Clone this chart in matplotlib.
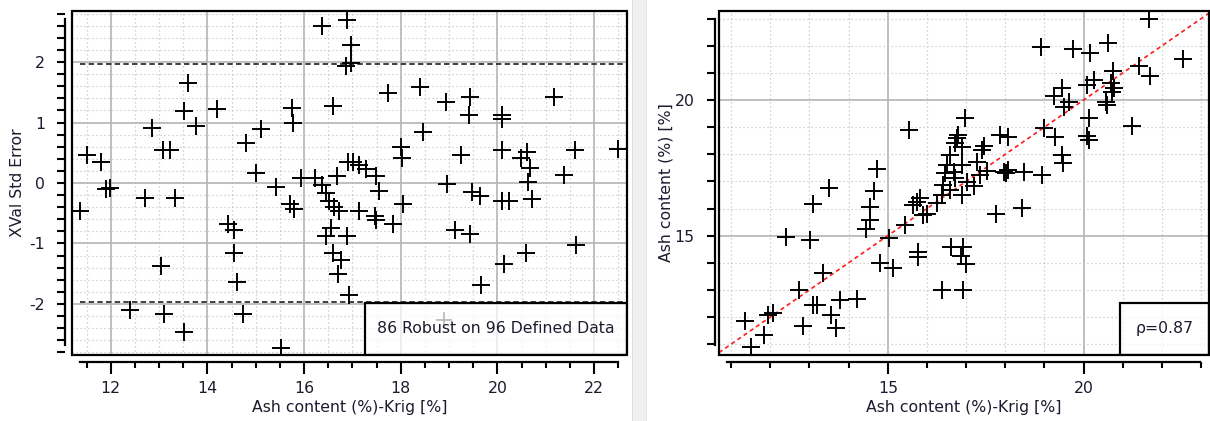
import matplotlib
matplotlib.use("Agg")
import matplotlib.pyplot as plt
from matplotlib.patches import Rectangle
from matplotlib.ticker import MultipleLocator, FixedLocator
import numpy as np

plt.rcParams['font.family'] = ['DejaVu Sans']
plt.rcParams['axes.unicode_minus'] = False

# ---------------- data: left panel (cross-validation std error) ----------------
xval_x = [11.37, 11.52, 11.81, 11.90, 11.99, 12.85, 13.08, 13.22, 12.72, 13.34,
          13.60, 13.52, 13.77, 14.19, 14.80, 15.11, 15.01, 15.41, 15.76, 15.77,
          15.94, 16.22, 15.70, 15.80, 13.05, 14.42, 14.56, 14.56, 14.61, 14.73,
          12.40, 13.10, 13.51, 15.53, 16.38, 16.88, 16.98, 16.87, 16.97, 16.59,
          17.74, 18.39, 18.93, 19.44, 19.41, 20.09, 20.09, 21.18, 18.46, 18.00,
          18.03, 19.25, 20.09, 20.61, 20.49, 20.68, 20.64, 21.61, 22.49, 21.38,
          18.95, 19.48, 19.63, 18.05, 20.09, 20.23, 20.71, 16.38, 16.45, 16.52,
          16.62, 16.73, 16.69, 16.90, 17.02, 17.14, 17.28, 17.48, 17.55, 17.14,
          17.47, 17.48, 17.83, 16.56, 16.45, 16.88, 16.59, 16.76, 16.71, 16.92,
          19.13, 19.44, 21.63, 20.60, 20.14, 19.67]
xval_err = [-0.46, 0.47, 0.34, -0.10, -0.08, 0.91, 0.55, 0.55, -0.24, -0.24,
            1.65, 1.19, 0.94, 1.23, 0.66, 0.89, 0.16, -0.07, 1.24, 1.00,
            0.09, 0.08, -0.35, -0.43, -1.38, -0.67, -0.77, -1.16, -1.63, -2.17,
            -2.10, -2.17, -2.46, -2.72, 2.60, 2.69, 2.28, 1.94, 1.98, 1.28,
            1.49, 1.58, 1.34, 1.42, 1.12, 1.12, 1.06, 1.42, 0.84, 0.60,
            0.41, 0.46, 0.55, 0.52, 0.42, 0.24, 0.02, 0.55, 0.57, 0.13,
            -0.02, -0.15, -0.21, -0.34, -0.30, -0.30, -0.27, -0.03, -0.17, -0.30,
            -0.40, -0.47, 0.12, 0.34, 0.34, 0.30, 0.23, 0.11, -0.14, -0.47,
            -0.54, -0.61, -0.68, -0.75, -0.87, -0.88, -1.15, -1.27, -1.50, -1.85,
            -0.77, -0.84, -1.02, -1.16, -1.34, -1.69]
hidden_x = [18.89]
hidden_err = [-2.26]
robust_limit = 1.96
robust_text = "86 Robust on 96 Defined Data"

# ---------------- data: right panel (estimated vs measured) ----------------
krig_x = [15.53, 14.72, 14.66, 13.51, 13.08, 14.55, 15.74, 14.55, 14.45, 12.40,
          13.01, 15.02, 15.44, 15.65, 15.91, 15.78, 15.78, 14.80, 15.13, 13.34,
          12.74, 13.10, 13.18, 13.78, 14.21, 13.55, 12.84, 13.68, 11.35, 11.95,
          12.07, 11.84, 11.50, 21.68, 18.92, 19.73, 20.17, 20.63, 22.53, 21.41,
          21.69, 20.75, 20.26, 20.09, 20.70, 20.77, 20.73, 19.45, 19.24, 19.62,
          19.49, 20.56, 20.60, 20.13, 20.09, 20.13, 21.24, 16.96, 18.98, 19.28,
          19.45, 19.46, 17.87, 18.06, 18.47, 18.94, 18.03, 18.06, 15.83, 16.00,
          16.25, 16.38, 16.41, 16.47, 16.52, 16.58, 16.72, 16.76, 16.78, 16.89,
          16.68, 16.72, 16.59, 16.89, 17.28, 17.40, 17.45, 16.89, 17.02, 17.21,
          17.36, 17.53, 17.76, 17.96, 16.62, 16.93, 16.87, 17.00, 18.43, 16.38,
          16.92]
measured = [18.90, 17.45, 16.65, 16.75, 16.17, 16.07, 16.25, 15.58, 15.24, 14.96,
            14.84, 14.90, 15.39, 16.13, 15.76, 14.41, 14.22, 14.00, 13.80, 13.63,
            13.00, 12.44, 12.44, 12.63, 12.65, 12.07, 11.67, 11.58, 11.86, 12.07,
            12.14, 11.34, 10.88, 22.98, 21.94, 21.88, 21.75, 22.10, 21.52, 21.24,
            20.87, 21.05, 20.74, 20.56, 20.62, 20.44, 20.31, 20.44, 20.13, 19.94,
            19.74, 19.91, 19.82, 19.33, 18.68, 18.53, 19.05, 19.33, 18.96, 18.65,
            17.98, 17.67, 18.72, 18.65, 17.36, 17.24, 17.30, 17.42, 16.38, 15.80,
            16.20, 16.50, 16.87, 17.30, 17.61, 17.98, 18.41, 18.59, 18.72, 18.28,
            17.36, 17.12, 16.69, 17.61, 17.73, 18.16, 18.31, 16.50, 16.99, 16.83,
            17.24, 17.40, 15.80, 17.36, 14.59, 14.59, 14.25, 13.95, 16.01, 13.00,
            13.00]
rho_text = "\u03c1=0.87"

xlabel = "Ash content (%)-Krig [%]"
ylabel_left = "XVal Std Error"
ylabel_right = "Ash content (%) [%]"

# ---------------- styling ----------------
W, H = 1210, 421
fig = plt.figure(figsize=(W / 100, H / 100), dpi=100)
txt_color = '#1c1c30'
fs = 11.3

def px_axes(x0, y0, x1, y1):
    return fig.add_axes([x0 / W, 1 - y1 / H, (x1 - x0) / W, (y1 - y0) / H])

# separator band
fig.patches.append(Rectangle((632 / W, 0), 15 / W, 1, transform=fig.transFigure,
                             facecolor='#f0f0f0', edgecolor='none', zorder=0))
fig.patches.append(Rectangle((632 / W, 0), 1 / W, 1, transform=fig.transFigure,
                             facecolor='#dcdcdc', edgecolor='none', zorder=0))
fig.patches.append(Rectangle((646 / W, 0), 1 / W, 1, transform=fig.transFigure,
                             facecolor='#e6e6e6', edgecolor='none', zorder=0))


def style(ax, yoff, xbounds, ybounds):
    for s in ['top', 'right']:
        ax.spines[s].set_visible(False)
    ax.spines['left'].set_position(('outward', yoff))
    ax.spines['bottom'].set_position(('outward', 5))
    for s in ['left', 'bottom']:
        ax.spines[s].set_linewidth(1.6)
    ax.spines['bottom'].set_bounds(*xbounds)
    ax.spines['left'].set_bounds(*ybounds)
    ax.add_patch(Rectangle((0, 0), 1, 1, transform=ax.transAxes, fill=False,
                           lw=1.6, edgecolor='black', clip_on=False, zorder=5))
    ax.tick_params(axis='x', which='major', length=8.5, width=1.5, pad=5,
                   labelsize=fs, labelcolor=txt_color)
    ax.tick_params(axis='x', which='minor', length=4, width=1.5)
    ax.tick_params(axis='y', which='both', length=5.5, width=1.5, pad=9,
                   labelsize=fs, labelcolor=txt_color)
    ax.grid(True, which='major', color='#b4b4b4', lw=1.2, ls='-', zorder=0)
    ax.grid(True, which='minor', color='#c4c4c4', lw=0.9, ls=(0, (1, 2.2)), zorder=0)
    ax.set_axisbelow(True)


# ---------------- left panel ----------------
ax1 = px_axes(72, 11, 627, 355)
ax1.set_xlim(11.20, 22.68)
ax1.set_ylim(-2.843, 2.843)
ax1.xaxis.set_major_locator(MultipleLocator(2))
ax1.xaxis.set_minor_locator(MultipleLocator(0.5))
ax1.yaxis.set_major_locator(MultipleLocator(1))
ax1.yaxis.set_minor_locator(MultipleLocator(0.2))
style(ax1, 5, (11.37, 22.5), (-2.68, 2.71))

ax1.plot([11.37, 22.62], [robust_limit, robust_limit], color='#303030', lw=1.3,
         ls=(0, (3, 1.8)), zorder=2)
ax1.plot([11.37, 22.62], [-robust_limit, -robust_limit], color='#303030', lw=1.3,
         ls=(0, (3, 1.8)), zorder=2)
ax1.plot(hidden_x, hidden_err, ls='none', marker='+', ms=12, mew=1.2,
         color='black', zorder=3)
ax1.scatter(xval_x, xval_err, marker='+', s=165, linewidths=1.4,
            color='black', zorder=3)
box1 = Rectangle((0.528, 0), 0.472, 0.152, transform=ax1.transAxes,
                 facecolor=(1, 1, 1, 0.72), edgecolor='black', lw=1.6, zorder=4)
ax1.add_patch(box1)
ax1.text(0.528 + 0.472 / 2, 0.076, robust_text, transform=ax1.transAxes,
         ha='center', va='center', fontsize=fs, color=txt_color, zorder=6)
ax1.set_xlabel(xlabel, fontsize=fs, color=txt_color, labelpad=3)
ax1.set_ylabel(ylabel_left, fontsize=fs, color=txt_color, labelpad=3)

# ---------------- right panel ----------------
ax2 = px_axes(719, 11, 1209, 355)
ax2.set_xlim(10.69, 23.2)
ax2.set_ylim(10.6, 23.28)
ax2.xaxis.set_major_locator(FixedLocator([15, 20]))
ax2.xaxis.set_minor_locator(FixedLocator([v for v in range(11, 24) if v not in (15, 20)]))
ax2.yaxis.set_major_locator(FixedLocator([15, 20]))
ax2.yaxis.set_minor_locator(FixedLocator([v for v in range(11, 24) if v not in (15, 20)]))
style(ax2, 3, (10.9, 22.98), (10.97, 23.0))

ax2.axline((11, 11), slope=1, color='#ff1a1a', lw=1.2, ls=(0, (2.5, 2)), zorder=2)
ax2.scatter(krig_x, measured, marker='+', s=165, linewidths=1.4,
            color='black', zorder=3)
box2 = Rectangle((0.818, 0), 0.182, 0.151, transform=ax2.transAxes,
                 facecolor=(1, 1, 1, 0.72), edgecolor='black', lw=1.6, zorder=4)
ax2.add_patch(box2)
ax2.text(0.818 + 0.182 / 2, 0.076, rho_text, transform=ax2.transAxes,
         ha='center', va='center', fontsize=fs, color=txt_color, zorder=6)
ax2.set_xlabel(xlabel, fontsize=fs, color=txt_color, labelpad=3)
ax2.set_ylabel(ylabel_right, fontsize=fs, color=txt_color, labelpad=1)

fig.savefig('out.png', dpi=100)
